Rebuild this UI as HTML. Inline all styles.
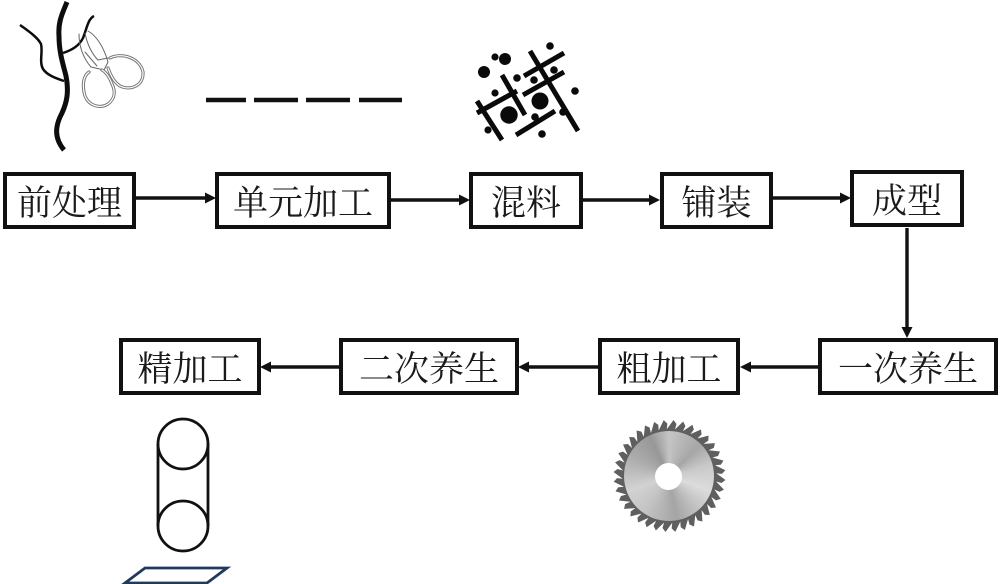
<!DOCTYPE html>
<html lang="zh">
<head>
<meta charset="utf-8">
<style>
html,body{margin:0;padding:0;background:#fff}
#p{position:relative;width:1000px;height:584px;overflow:hidden;background:#fff}
svg{position:absolute;left:0;top:0}
.disc{position:absolute;left:624px;top:431px;width:90px;height:90px;border-radius:50%;
background:conic-gradient(from 0deg,#c4c4c4,#a6a6a6 45deg,#c9c9c9 75deg,#dcdcdc 110deg,#a5a5a5 170deg,#c4c4c4 215deg,#d2d2d2 250deg,#aaa 300deg,#989898 335deg,#c4c4c4)}
.hole{position:absolute;left:655px;top:463px;width:27px;height:27px;border-radius:50%;background:#fff}
.b{position:absolute;box-sizing:border-box;border:4px solid #111;background:#fff;color:#1a1a1a;padding-top:5px;
font-family:"Liberation Serif","Noto Serif CJK SC",serif;font-size:35px;letter-spacing:0;
display:flex;align-items:center;justify-content:center;white-space:nowrap;line-height:1}
</style>
</head>
<body>
<div id="p">
<svg width="1000" height="584" viewBox="0 0 1000 584" xmlns="http://www.w3.org/2000/svg">
  <defs>
    <polygon id="t" points="664,431 672,420 675,424 673,431" fill="#5f5f5f"/>
  </defs>

  <!-- plant -->
  <g fill="none" stroke="#0d0d0d" stroke-linecap="butt" stroke-linejoin="round">
    <path d="M67,2 C62,14 58,22 59,36 C59,52 63,64 66,76 C69,92 67,102 62,113 C55,126 54,138 64,150" stroke-width="5"/>
    <path d="M20,25 C30,32 38,38 41,44 C43,52 39,62 43,69 C47,75 55,78 64,81" stroke-width="2.5"/>
    <path d="M63,53 C72,50 79,46 83,38 C87,28 88,19 94,16" stroke-width="2.5"/>
  </g>

  <!-- scissors -->
  <g fill="none" stroke-linejoin="round" stroke-linecap="round">
    <g stroke="#666" stroke-width="1">
      <path d="M79,34 C79,46 83,58 91,67 L104,70 L108,62 C104,48 97,36 88,31"/>
      <path d="M85,33 C87,44 92,54 98,60 L108,58"/>
      <path d="M85,52 L97,66"/>
    </g>
    <g stroke="#777" stroke-width="3.2">
      <path d="M110,58 C122,52 140,58 143,72 C144,86 130,91 120,86 C114,82 111,76 108,68"/>
      <path d="M89,72 C83,76 82,86 85,96 C89,106 100,109 108,104 C116,98 115,90 112,84 C110,78 106,72 102,70"/>
    </g>
    <g stroke="#fff" stroke-width="1.2">
      <path d="M110,58 C122,52 140,58 143,72 C144,86 130,91 120,86 C114,82 111,76 108,68"/>
      <path d="M89,72 C83,76 82,86 85,96 C89,106 100,109 108,104 C116,98 115,90 112,84 C110,78 106,72 102,70"/>
    </g>
  </g>

  <!-- dashes -->
  <g stroke="#111" stroke-width="4.5">
    <path d="M206,100H246M254,100H298M306,100H350M359,100H402"/>
  </g>

  <!-- mix -->
  <g stroke="#0a0a0a" stroke-width="5" stroke-linecap="butt">
    <line x1="530" y1="51" x2="578" y2="131"/>
    <line x1="564" y1="53" x2="524" y2="76"/>
    <line x1="564" y1="72" x2="523" y2="95"/>
    <line x1="555" y1="111" x2="516" y2="135"/>
    <line x1="502" y1="75" x2="525" y2="115"/>
    <line x1="517" y1="91" x2="477" y2="113"/>
    <line x1="477" y1="101" x2="502" y2="140"/>
  </g>
  <g fill="#0a0a0a">
    <circle cx="550" cy="46" r="3.8"/><circle cx="495" cy="57" r="3.6"/><circle cx="505" cy="59" r="6"/>
    <circle cx="484" cy="72" r="6"/><circle cx="517" cy="78" r="3.8"/><circle cx="534" cy="80" r="3.8"/>
    <circle cx="554" cy="70" r="3.8"/><circle cx="575" cy="91" r="3.8"/><circle cx="495" cy="93" r="3.6"/>
    <circle cx="540" cy="101" r="8.5"/><circle cx="509" cy="115" r="8.7"/><circle cx="535" cy="117" r="3.8"/>
    <circle cx="563" cy="112" r="3.8"/><circle cx="488" cy="130" r="3.6"/><circle cx="542" cy="134" r="3.8"/>
  </g>

  <!-- connectors -->
  <g stroke="#111" stroke-width="3.4" fill="none">
    <path d="M135,198H208M390,200H463M581,200H653M771,198H844"/>
    <path d="M907,228V330"/>
    <path d="M340,367H268M599,367H526M819,367H747"/>
  </g>
  <g fill="#111">
    <polygon points="216,198 205,192.5 205,203.5"/>
    <polygon points="470,200 459,194.5 459,205.5"/>
    <polygon points="660,200 649,194.5 649,205.5"/>
    <polygon points="851,198 840,192.5 840,203.5"/>
    <polygon points="907,338 901.500,327 912.500,327"/>
    <polygon points="260,367 271,361.500 271,372.500"/>
    <polygon points="518,367 529,361.500 529,372.500"/>
    <polygon points="740,367 751,361.500 751,372.500"/>
  </g>

  <!-- saw teeth -->
  <g transform="translate(1.5 0)">
    <circle cx="668" cy="476" r="47" fill="#5f5f5f"/>
    <use href="#t" transform="rotate(0 668 476)"/><use href="#t" transform="rotate(10 668 476)"/>
    <use href="#t" transform="rotate(20 668 476)"/><use href="#t" transform="rotate(30 668 476)"/>
    <use href="#t" transform="rotate(40 668 476)"/><use href="#t" transform="rotate(50 668 476)"/>
    <use href="#t" transform="rotate(60 668 476)"/><use href="#t" transform="rotate(70 668 476)"/>
    <use href="#t" transform="rotate(80 668 476)"/><use href="#t" transform="rotate(90 668 476)"/>
    <use href="#t" transform="rotate(100 668 476)"/><use href="#t" transform="rotate(110 668 476)"/>
    <use href="#t" transform="rotate(120 668 476)"/><use href="#t" transform="rotate(130 668 476)"/>
    <use href="#t" transform="rotate(140 668 476)"/><use href="#t" transform="rotate(150 668 476)"/>
    <use href="#t" transform="rotate(160 668 476)"/><use href="#t" transform="rotate(170 668 476)"/>
    <use href="#t" transform="rotate(180 668 476)"/><use href="#t" transform="rotate(190 668 476)"/>
    <use href="#t" transform="rotate(200 668 476)"/><use href="#t" transform="rotate(210 668 476)"/>
    <use href="#t" transform="rotate(220 668 476)"/><use href="#t" transform="rotate(230 668 476)"/>
    <use href="#t" transform="rotate(240 668 476)"/><use href="#t" transform="rotate(250 668 476)"/>
    <use href="#t" transform="rotate(260 668 476)"/><use href="#t" transform="rotate(270 668 476)"/>
    <use href="#t" transform="rotate(280 668 476)"/><use href="#t" transform="rotate(290 668 476)"/>
    <use href="#t" transform="rotate(300 668 476)"/><use href="#t" transform="rotate(310 668 476)"/>
    <use href="#t" transform="rotate(320 668 476)"/><use href="#t" transform="rotate(330 668 476)"/>
    <use href="#t" transform="rotate(340 668 476)"/><use href="#t" transform="rotate(350 668 476)"/>
  </g>

  <!-- pulley -->
  <g fill="none" stroke="#111" stroke-width="2.8">
    <circle cx="183" cy="444" r="25"/>
    <circle cx="183" cy="526" r="25"/>
    <path d="M158,444V526M208,444V526"/>
  </g>
  <polygon points="145,568 227,568 207,583 125,583" fill="#fff" stroke="#203a5c" stroke-width="2.8"/>
</svg>

<div class="disc"></div>
<div class="hole"></div>

<div class="b" style="left:3px;top:172px;width:133px;height:57px">前处理</div>
<div class="b" style="left:215px;top:172px;width:176px;height:57px">单元加工</div>
<div class="b" style="left:469px;top:172px;width:114px;height:57px">混料</div>
<div class="b" style="left:660px;top:172px;width:113px;height:57px">铺装</div>
<div class="b" style="left:850px;top:170px;width:114px;height:57px">成型</div>
<div class="b" style="left:119px;top:338px;width:142px;height:57px">精加工</div>
<div class="b" style="left:339px;top:338px;width:180px;height:57px">二次养生</div>
<div class="b" style="left:598px;top:338px;width:142px;height:57px">粗加工</div>
<div class="b" style="left:818px;top:338px;width:180px;height:57px">一次养生</div>
</div>
</body>
</html>
